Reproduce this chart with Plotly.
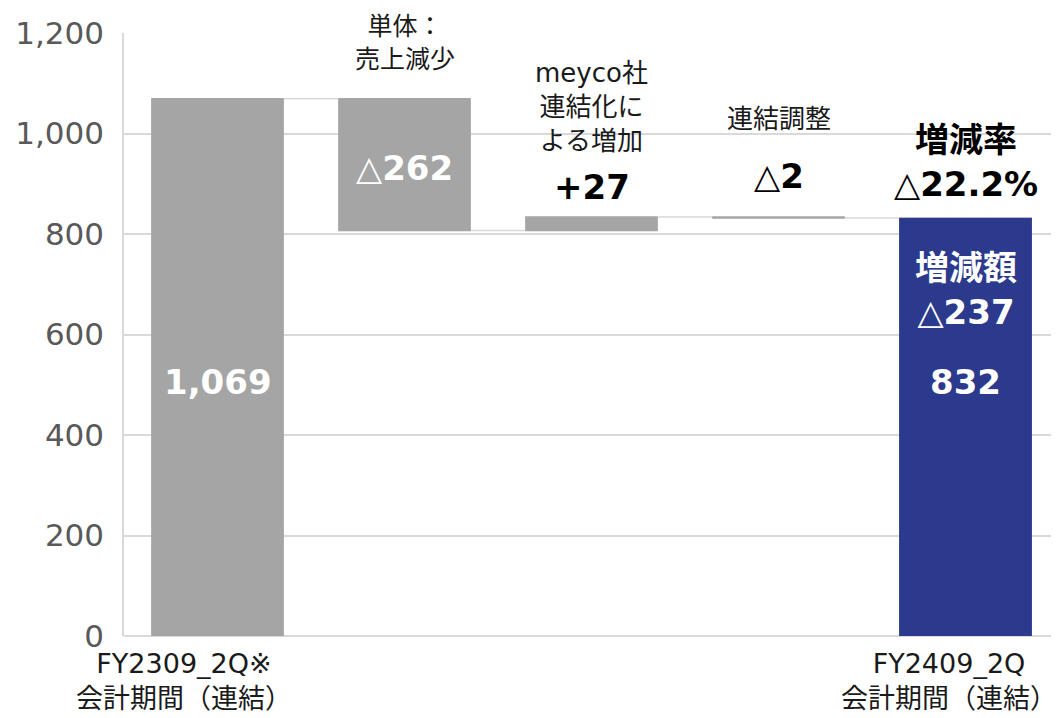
import plotly.graph_objects as go

# waterfall steps (million yen)
categories = ["FY2309_2Q※", "単体：売上減少", "meyco社連結化による増加", "連結調整", "FY2409_2Q"]
measures = ["absolute", "relative", "relative", "relative", "total"]
values = [1069, -262, 27, -2, 832]
value_labels = ["1,069", "△262", "+27", "△2", "832"]

top_labels = ["", "単体：<br>売上減少", "meyco社<br>連結化に<br>よる増加", "連結調整", ""]
bottom_labels = ["FY2309_2Q※<br>会計期間（連結）", "", "", "", "FY2409_2Q<br>会計期間（連結）"]

change_amount = "△237"
change_rate = "△22.2%"

GRAY = "#A5A5A5"
NAVY = "#2B3A8C"
FONT = "'DejaVu Sans', 'Noto Sans CJK JP', sans-serif"

fig = go.Figure()
fig.add_trace(go.Waterfall(
    x=categories,
    y=values,
    measure=measures,
    width=0.71,
    increasing=dict(marker=dict(color=GRAY)),
    decreasing=dict(marker=dict(color=GRAY)),
    totals=dict(marker=dict(color=GRAY)),
    connector=dict(line=dict(color="#D9D9D9", width=1.5)),
    hoverinfo="skip",
))
# final total drawn in navy on top of the waterfall total
fig.add_trace(go.Bar(
    x=[categories[-1]],
    y=[values[-1]],
    width=0.71,
    marker=dict(color=NAVY, line=dict(width=0)),
    hoverinfo="skip",
))

ann = []
bold = dict(family=FONT, size=34)
# value labels
ann.append(dict(x=categories[0], y=505, text="<b>" + value_labels[0] + "</b>",
                font=dict(bold, color="white")))
ann.append(dict(x=categories[1], y=931, text=value_labels[1][0] + "<b>" + value_labels[1][1:] + "</b>",
                font=dict(bold, color="white")))
ann.append(dict(x=categories[2], y=894, text="<b>" + value_labels[2] + "</b>",
                font=dict(bold, color="black")))
ann.append(dict(x=categories[3], y=915, text=value_labels[3][0] + "<b>" + value_labels[3][1:] + "</b>",
                font=dict(bold, color="black")))
ann.append(dict(x=categories[4], y=505, text="<b>" + value_labels[4] + "</b>",
                font=dict(bold, color="white")))
ann.append(dict(x=categories[4], y=943,
                text="<b>増減率</b><br>" + change_rate[0] + "<b>" + change_rate[1:] + "</b>",
                font=dict(bold, color="black")))
ann.append(dict(x=categories[4], y=689,
                text="<b>増減額</b><br>" + change_amount[0] + "<b>" + change_amount[1:] + "</b>",
                font=dict(bold, color="white")))

# category labels above the middle bars (paper y so they may sit above the plot)
top_pos = [0, 0.983, 0.877, 0.857, 0]
top_size = [26, 25, 26, 26, 26]
for cat, lab, yp, sz in zip(categories, top_labels, top_pos, top_size):
    if lab:
        ann.append(dict(x=cat, y=yp, yref="paper", text=lab,
                        font=dict(family=FONT, size=sz, color="#1A1A1A")))

# category labels under the end bars
for cat, lab, dx in zip(categories, bottom_labels, [-34, 0, 0, 0, -17]):
    if lab:
        ann.append(dict(x=cat, y=-0.075, yref="paper", xshift=dx, text=lab,
                        font=dict(family=FONT, size=27, color="#1A1A1A")))

for a in ann:
    a.setdefault("showarrow", False)
    a.setdefault("xref", "x")
    a.setdefault("yref", "y")
    a.setdefault("yanchor", "middle")

# page body has an 8px margin, so the figure is sized to fit inside it
fig.update_layout(
    width=1051,
    height=710,
    margin=dict(l=116, r=0, t=25, b=82),
    paper_bgcolor="white",
    plot_bgcolor="white",
    showlegend=False,
    font=dict(family=FONT, color="#595959"),
    annotations=ann,
)
fig.update_xaxes(showticklabels=False, showgrid=False, showline=False,
                 automargin=False, range=[-0.5, 4.5])
fig.update_yaxes(
    automargin=False,
    range=[0, 1200],
    tickvals=[0, 200, 400, 600, 800, 1000, 1200],
    tickformat=",",
    tickfont=dict(family=FONT, size=31, color="#595959"),
    showgrid=True,
    gridcolor="#D9D9D9",
    gridwidth=1.5,
    zeroline=True,
    zerolinecolor="#D9D9D9",
    zerolinewidth=1.5,
    showline=True,
    linecolor="#D9D9D9",
    linewidth=1.5,
    ticks="outside",
    ticklen=12,
    tickcolor="white",
)

fig.write_html("out.html")
